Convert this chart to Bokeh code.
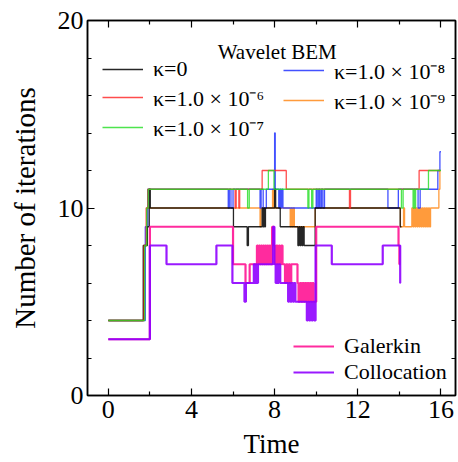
from bokeh.plotting import figure
from bokeh.models import (Range1d, LinearAxis, FixedTicker, Legend, LegendItem, Label)
from bokeh.embed import file_html
from bokeh.resources import INLINE

# ---------------- data (change points of each step series) ----------------
k0_t = [0, 1.68, 1.88, 1.97, 2.02, 6.02, 6.68, 6.74, 7.40, 7.44, 7.48, 7.52, 7.56,
        8.00, 8.05, 8.27, 9.12, 9.17, 9.22, 9.27, 9.32, 9.37, 9.42, 9.95, 14.04, 14.10]
k0_y = [4, 8, 9, 11, 10, 9, 8, 9, 10, 9, 10, 9, 10,
        11, 10, 9, 8, 9, 8, 9, 8, 9, 8, 10, 9, 9]

k6_t = [0, 1.72, 1.82, 1.90, 6.10, 6.15, 6.28, 6.32, 7.40, 8.56, 11.60, 11.65, 14.95, 15.95]
k6_y = [4, 8, 10, 11, 10, 11, 10, 11, 12, 11, 10, 11, 12, 12]

k7_t = [0, 1.75, 1.85, 1.92, 6.70, 6.78, 7.70, 7.97, 9.60, 9.65, 9.78, 9.84,
        14.10, 14.18, 14.66, 14.70, 14.74, 14.78, 15.40, 16.00]
k7_y = [4, 8, 10, 11, 10, 11, 12, 11, 10, 11, 10, 11,
        10, 11, 10, 11, 10, 11, 12, 12]

k8_t = [0, 1.78, 1.90, 5.77, 5.82, 5.90, 6.00, 7.30, 7.35, 7.45, 7.60, 8.00, 8.03,
        8.20, 8.25, 8.30, 8.35, 8.40, 8.45, 10.00, 10.05, 10.12, 10.18, 10.25, 10.32,
        10.40, 13.45, 13.95, 14.90, 15.00, 15.85, 15.95, 16.00]
k8_y = [4, 9, 11, 10, 11, 10, 11, 10, 11, 10, 11, 14, 11,
        10, 11, 10, 11, 10, 10, 11, 10, 11, 10, 11, 10,
        11, 10, 11, 10, 11, 12, 13, 13]

k9_t = [0, 1.70, 1.85, 7.30, 7.34, 7.90, 7.95, 8.75, 8.80, 8.85, 8.90, 8.95, 9.95,
        14.05, 14.20, 14.25, 14.60, 14.65, 14.70, 14.75, 14.80, 14.85, 14.90, 14.95,
        15.00, 15.05, 15.10, 15.15, 15.20, 15.25, 15.30, 15.35, 15.40, 15.45, 15.50,
        15.90, 15.95, 16.00]
k9_y = [4, 8, 10, 9, 10, 11, 10, 9, 10, 9, 10, 9, 10,
        9, 10, 9, 10, 9, 10, 9, 10, 9, 10, 9,
        10, 9, 10, 9, 10, 9, 10, 9, 10, 9, 10,
        11, 12, 12]

gal_t = [0, 2.00, 6.00, 6.60, 6.80, 7.15, 7.20, 7.25, 7.30, 7.35, 7.40, 7.45, 7.50,
         7.55, 7.60, 7.65, 7.70, 7.75, 7.80, 7.88, 7.96, 8.02, 8.08, 8.14, 8.20, 8.26,
         8.32, 8.38, 8.50, 8.56, 8.62, 8.68, 8.74, 8.80, 8.86, 9.10, 9.15, 9.22, 9.28,
         9.34, 9.40, 9.46, 9.52, 9.58, 9.64, 9.70, 9.76, 9.82, 9.88, 10.00, 13.96,
         14.00, 14.05]
gal_y = [3, 9, 7, 6, 7, 8, 7, 8, 7, 8, 7, 8, 7,
         8, 7, 8, 7, 8, 7, 9, 8, 7, 8, 7, 8, 7,
         8, 7, 6, 7, 6, 7, 6, 7, 7, 6, 5, 6, 5,
         6, 5, 6, 5, 6, 5, 6, 5, 6, 5, 9, 8,
         7, 7]

col_t = [0, 2.00, 2.80, 5.20, 5.97, 6.55, 6.62, 7.00, 7.05, 7.10, 7.15, 7.20, 7.93,
         7.99, 8.05, 8.10, 8.15, 8.20, 8.27, 8.65, 8.70, 8.76, 8.82, 8.88, 8.94, 9.00,
         9.55, 9.60, 9.66, 9.72, 9.78, 9.84, 9.90, 9.97, 10.75, 13.20, 14.04, 14.06]
col_y = [3, 8, 7, 8, 6, 5, 6, 7, 6, 7, 6, 7, 9,
         7, 6, 7, 6, 7, 6, 5, 6, 5, 6, 5, 6, 5,
         4, 5, 4, 5, 4, 5, 4, 8, 7, 8, 6, 6]

x_ticks = [0, 4, 8, 12, 16]
x_minor = [2, 6, 10, 14]
y_ticks = [0, 10, 20]
y_minor = [2, 4, 6, 8, 12, 14, 16, 18]

wavelet_labels = ["κ=0", "κ=1.0 × 10⁻⁶", "κ=1.0 × 10⁻⁷", "κ=1.0 × 10⁻⁸", "κ=1.0 × 10⁻⁹"]
method_labels = ["Galerkin", "Collocation"]
x_title = "Time"
y_title = "Number of iterations"

FONT = "Liberation Serif"

p = figure(width=458, height=462, output_backend="svg", toolbar_location=None,
           x_range=Range1d(-1, 16.7), y_range=Range1d(0, 20),
           min_border_left=87, min_border_top=20, min_border_right=3,
           min_border_bottom=67)
p.grid.visible = False
p.background_fill_color = "white"
p.border_fill_color = "white"
p.outline_line_color = "black"
p.outline_line_width = 1.5

def style_axis(ax, labels=True):
    ax.axis_line_width = 1.5
    ax.axis_line_color = "black"
    ax.major_tick_in = 7
    ax.major_tick_out = 0
    ax.minor_tick_in = 4
    ax.minor_tick_out = 0
    ax.major_tick_line_width = 1.2
    ax.minor_tick_line_width = 1.2
    ax.major_tick_line_color = "black"
    ax.minor_tick_line_color = "black"
    ax.major_label_text_font = FONT
    ax.major_label_text_color = "black"
    ax.major_label_text_font_size = "26px"
    ax.axis_label_text_font = FONT
    ax.axis_label_text_font_style = "normal"
    ax.axis_label_text_color = "black"
    if not labels:
        ax.major_label_text_font_size = "1px"
        ax.major_label_text_color = None
        ax.major_label_standoff = 0

xt = FixedTicker(ticks=x_ticks, minor_ticks=x_minor)
yt = FixedTicker(ticks=y_ticks, minor_ticks=y_minor)

p.xaxis.ticker = xt
p.yaxis.ticker = yt
for ax in p.xaxis + p.yaxis:
    style_axis(ax)
p.xaxis.axis_label = x_title
p.yaxis.axis_label = y_title
p.xaxis.axis_label_text_font_size = "27px"
p.yaxis.axis_label_text_font_size = "29px"
p.xaxis.major_label_standoff = 5
p.yaxis.major_label_standoff = 4
p.xaxis.axis_label_standoff = 8
p.yaxis.axis_label_standoff = 14

top = LinearAxis(ticker=xt)
style_axis(top, labels=False)
p.add_layout(top, "above")
right = LinearAxis(ticker=yt)
style_axis(right, labels=False)
p.add_layout(right, "right")

series = [
    (k9_t, k9_y, "#ff8a1a", 1.3, 0.85),
    (k8_t, k8_y, "#2233ff", 1.3, 0.85),
    (k0_t, k0_y, "#000000", 1.3, 0.85),
    (k6_t, k6_y, "#ff2020", 1.3, 0.8),
    (k7_t, k7_y, "#22dd22", 1.3, 0.8),
    (gal_t, gal_y, "#ff1493", 2.2, 0.9),
    (col_t, col_y, "#8f00ff", 2.2, 0.9),
]
rs = []
for t, y, c, w, a in series:
    rs.append(p.step(t, y, mode="after", line_color=c, line_width=w, line_alpha=a))

r9, r8, r0, r6, r7, rg, rc = rs

def make_legend(items, loc, spacing=-2):
    lg = Legend(items=items, location=loc, orientation="vertical")
    lg.padding = 0
    lg.margin = 0
    lg.border_line_color = None
    lg.background_fill_alpha = 0
    lg.glyph_width = 41
    lg.glyph_height = 22
    lg.label_height = 22
    lg.label_standoff = 10
    lg.spacing = spacing
    lg.label_text_font = FONT
    lg.label_text_font_size = "22px"
    lg.label_text_color = "black"
    return lg

leg1 = make_legend([LegendItem(label=wavelet_labels[0], renderers=[r0]),
                    LegendItem(label=wavelet_labels[1], renderers=[r6]),
                    LegendItem(label=wavelet_labels[2], renderers=[r7])], (15, 253))
leg2 = make_legend([LegendItem(label=wavelet_labels[3], renderers=[r8]),
                    LegendItem(label=wavelet_labels[4], renderers=[r9])], (196, 280))
leg3 = make_legend([LegendItem(label=method_labels[0], renderers=[rg]),
                    LegendItem(label=method_labels[1], renderers=[rc])], (206, 10), spacing=-1)
for lg in (leg1, leg2, leg3):
    p.add_layout(lg)

title = Label(x=8.125, y=18.3, text="Wavelet BEM", text_align="center",
              text_baseline="alphabetic", text_font=FONT, text_font_size="21px",
              text_color="black")
p.add_layout(title)

open("out.html", "w").write(file_html(p, INLINE))
